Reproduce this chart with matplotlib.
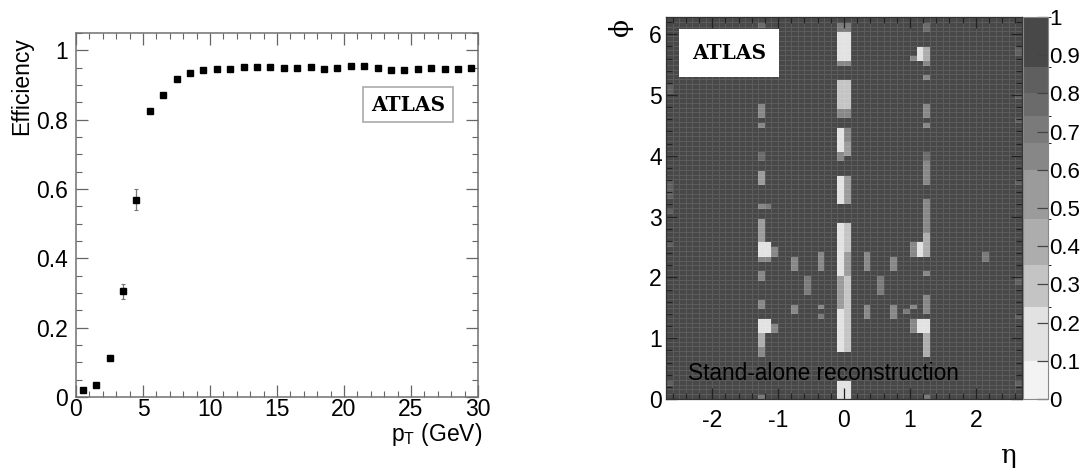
import numpy as np
import matplotlib
matplotlib.use("Agg")
import matplotlib.pyplot as plt
from matplotlib.colors import ListedColormap, BoundaryNorm
from matplotlib.patches import Rectangle
from matplotlib.ticker import MultipleLocator, FuncFormatter

plt.rcParams["font.family"] = ["Liberation Sans", "DejaVu Sans"]
plt.rcParams["mathtext.fontset"] = "custom"
plt.rcParams["mathtext.rm"] = "Liberation Sans"

# ---------------- efficiency vs pT ----------------
pt_bin_centers = [0.5, 1.5, 2.5, 3.5, 4.5, 5.5, 6.5, 7.5, 8.5, 9.5,
                  10.5, 11.5, 12.5, 13.5, 14.5, 15.5, 16.5, 17.5, 18.5, 19.5,
                  20.5, 21.5, 22.5, 23.5, 24.5, 25.5, 26.5, 27.5, 28.5, 29.5]
efficiency = [0.021, 0.034, 0.113, 0.305, 0.569, 0.826, 0.872, 0.916, 0.934, 0.943,
              0.945, 0.947, 0.953, 0.951, 0.951, 0.949, 0.949, 0.951, 0.946, 0.948,
              0.956, 0.954, 0.948, 0.944, 0.942, 0.946, 0.948, 0.947, 0.945, 0.948]
efficiency_err = [0.004, 0.005, 0.007, 0.022, 0.031, 0.006, 0.005, 0.004, 0.003, 0.003,
                  0.003, 0.003, 0.003, 0.003, 0.003, 0.003, 0.003, 0.003, 0.003, 0.003,
                  0.003, 0.003, 0.003, 0.003, 0.003, 0.003, 0.003, 0.003, 0.003, 0.003]

# ---------------- efficiency map in eta-phi ----------------
eta_range = (-2.7, 2.7)
n_eta_bins = 54
n_phi_bins = 80
nominal_eff = 1.0
# regions of reduced efficiency: (eta_lo, eta_hi, phi_lo, phi_hi, efficiency)
low_eff_regions = [
    # eta ~ 0 crack (two columns)
    (-0.1, 0.1, 6.07, 6.18, 0.72),
    (-0.1, 0.0, 5.57, 6.07, 0.12), (0.0, 0.1, 5.57, 6.07, 0.22),
    (-0.1, 0.1, 5.50, 5.57, 0.62),
    (-0.1, 0.0, 4.75, 5.27, 0.26), (0.0, 0.1, 4.75, 5.27, 0.34),
    (-0.1, 0.1, 4.68, 4.75, 0.62),
    (-0.1, 0.0, 4.04, 4.45, 0.12), (0.0, 0.1, 4.20, 4.45, 0.62), (0.0, 0.1, 4.04, 4.20, 0.5),
    (-0.1, 0.0, 3.97, 4.04, 0.62),
    (-0.1, 0.0, 3.22, 3.65, 0.12), (0.0, 0.1, 3.22, 3.65, 0.55),
    (-0.1, 0.0, 2.00, 2.92, 0.12), (0.0, 0.1, 2.45, 2.92, 0.25), (0.0, 0.1, 2.00, 2.45, 0.55),
    (-0.1, 0.0, 1.50, 2.00, 0.55), (0.0, 0.1, 1.50, 2.00, 0.28),
    (-0.1, 0.0, 0.80, 1.50, 0.14), (0.0, 0.1, 0.80, 1.50, 0.3),
    (-0.1, 0.0, 0.00, 0.31, 0.12), (0.0, 0.1, 0.00, 0.31, 0.2),
    # eta ~ -1.2 transition region
    (-1.3, -1.2, 6.10, 6.18, 0.75),
    (-1.3, -1.2, 4.64, 4.86, 0.62),
    (-1.3, -1.2, 4.45, 4.56, 0.62),
    (-1.3, -1.2, 3.93, 4.04, 0.75),
    (-1.3, -1.2, 3.55, 3.74, 0.55),
    (-1.3, -1.2, 3.14, 3.25, 0.62), (-1.2, -1.1, 3.14, 3.25, 0.72),
    (-1.3, -1.2, 2.62, 2.94, 0.5),
    (-1.3, -1.2, 2.31, 2.40, 0.6), (-1.2, -1.1, 2.31, 2.40, 0.6),
    (-1.3, -1.1, 2.40, 2.60, 0.1), (-1.1, -1.0, 2.40, 2.52, 0.65),
    (-1.3, -1.2, 2.00, 2.10, 0.62),
    (-1.3, -1.2, 1.52, 1.63, 0.65),
    (-1.3, -1.1, 1.08, 1.30, 0.1), (-1.1, -1.0, 1.10, 1.25, 0.65),
    (-1.3, -1.2, 0.86, 1.08, 0.35),
    (-1.3, -1.2, 0.70, 0.86, 0.6),
    (-1.3, -1.2, 0.00, 0.10, 0.7),
    # scattered cells in the barrel
    (-0.8, -0.7, 2.12, 2.31, 0.66), (-0.8, -0.7, 1.40, 1.60, 0.66),
    (-0.6, -0.5, 1.74, 2.01, 0.68),
    (-0.4, -0.3, 2.12, 2.42, 0.64), (-0.4, -0.3, 1.52, 1.60, 0.66),
    (-0.4, -0.3, 1.33, 1.40, 0.68),
    (0.3, 0.4, 2.12, 2.42, 0.64), (0.3, 0.4, 1.33, 1.60, 0.64),
    (0.5, 0.6, 1.74, 2.01, 0.68),
    (0.7, 0.8, 2.13, 2.34, 0.66), (0.7, 0.8, 1.33, 1.55, 0.66),
    (0.9, 1.0, 1.40, 1.52, 0.68),
    (1.0, 1.1, 2.40, 2.56, 0.62), (1.0, 1.1, 1.50, 1.60, 0.66),
    (1.0, 1.1, 1.10, 1.30, 0.62), (1.0, 1.1, 5.57, 5.65, 0.62),
    # eta ~ +1.2 transition region
    (1.2, 1.3, 6.07, 6.18, 0.75),
    (1.1, 1.2, 5.55, 5.77, 0.1), (1.2, 1.3, 5.55, 5.77, 0.4),
    (1.2, 1.3, 5.47, 5.55, 0.6),
    (1.2, 1.3, 5.25, 5.36, 0.62),
    (1.2, 1.3, 4.64, 4.86, 0.62),
    (1.2, 1.3, 4.45, 4.56, 0.62),
    (1.2, 1.3, 3.93, 4.04, 0.75), (1.2, 1.3, 3.55, 3.93, 0.62),
    (1.2, 1.3, 2.72, 3.33, 0.6),
    (1.2, 1.3, 2.40, 2.72, 0.35), (1.1, 1.2, 2.40, 2.62, 0.1),
    (1.2, 1.3, 2.04, 2.15, 0.6),
    (1.2, 1.3, 1.46, 1.70, 0.65),
    (1.1, 1.3, 1.08, 1.33, 0.1),
    (1.2, 1.3, 0.72, 1.08, 0.4),
    (1.2, 1.3, 0.00, 0.10, 0.7),
    # outer edges
    (-2.7, -2.6, 5.05, 5.16, 0.8), (-2.7, -2.6, 3.30, 3.60, 0.82),
    (-2.7, -2.6, 3.05, 3.14, 0.8), (-2.7, -2.6, 2.53, 2.61, 0.8),
    (-2.7, -2.6, 0.26, 0.31, 0.8),
    (2.1, 2.2, 2.30, 2.40, 0.72),
    (2.6, 2.7, 5.70, 5.77, 0.8), (2.6, 2.7, 4.95, 5.03, 0.8),
    (2.6, 2.7, 4.55, 4.63, 0.8), (2.6, 2.7, 3.55, 3.63, 0.8),
    (2.6, 2.7, 1.90, 2.00, 0.8), (2.6, 2.7, 1.33, 1.43, 0.8),
    (2.6, 2.7, 0.23, 0.31, 0.8),
]

# palette levels and grey shades
palette_levels = [0.0, 0.1, 0.24, 0.35, 0.47, 0.6, 0.67, 0.74, 0.8, 0.87, 1.0001]
palette_greys = ["#f3f3f3", "#e2e2e2", "#c4c4c4", "#adadad", "#9b9b9b",
                 "#878787", "#7a7a7a", "#6b6b6b", "#5f5f5f", "#484848"]

# build the eta-phi histogram
eta_edges = np.linspace(eta_range[0], eta_range[1], n_eta_bins + 1)
phi_edges = np.linspace(0, 2 * np.pi, n_phi_bins + 1)
eff_map = np.full((n_phi_bins, n_eta_bins), nominal_eff)
for e0, e1, p0, p1, val in low_eff_regions:
    eta_ov = np.minimum(e1, eta_edges[1:]) - np.maximum(e0, eta_edges[:-1])
    phi_ov = np.minimum(p1, phi_edges[1:]) - np.maximum(p0, phi_edges[:-1])
    ie = eta_ov > 0.5 * np.diff(eta_edges)
    ip = phi_ov > 0.4 * np.diff(phi_edges)
    eff_map[np.ix_(ip, ie)] = val

W, H = 1092, 469
fig = plt.figure(figsize=(W / 100, H / 100), dpi=100)

def fx(px):
    return px / W

def fy(py):
    return 1 - py / H

def root_fmt(v, _):
    return f"{v:g}"

# ---------- left panel ----------
ax1 = fig.add_axes([fx(76), fy(397), fx(478) - fx(76), fy(33) - fy(397)])
ax1.errorbar(pt_bin_centers, efficiency, yerr=efficiency_err, fmt="s",
             color="black", ms=4.6, mec="black", ecolor="#777777",
             elinewidth=0.9, capsize=1.5, capthick=0.8)
ax1.set_xlim(0, 30)
ax1.set_ylim(0, 1.05)
ax1.xaxis.set_major_locator(MultipleLocator(5))
ax1.xaxis.set_minor_locator(MultipleLocator(1))
ax1.yaxis.set_major_locator(MultipleLocator(0.2))
ax1.yaxis.set_minor_locator(MultipleLocator(0.05))
ax1.xaxis.set_major_formatter(FuncFormatter(root_fmt))
ax1.yaxis.set_major_formatter(FuncFormatter(root_fmt))
ax1.tick_params(which="both", direction="in", top=True, right=True,
                color="#666666", labelsize=16.5)
ax1.tick_params(which="major", length=8.5, width=0.9)
ax1.tick_params(which="minor", length=4.2, width=0.8)
ax1.tick_params(axis="x", pad=0.5)
ax1.tick_params(axis="y", pad=6)
for sp in ax1.spines.values():
    sp.set_color("#707070")
    sp.set_linewidth(1.1)
ax1.add_patch(Rectangle((0.714, 0.755), 0.224, 0.096, transform=ax1.transAxes,
                        facecolor="white", edgecolor="#aaaaaa", lw=1.2))
ax1.text(0.826, 0.803, "ATLAS", transform=ax1.transAxes, ha="center", va="center",
         family="DejaVu Serif", weight="bold", size=14.5)
fig.text(fx(22), fy(37), "Efficiency", rotation=90, ha="center", va="top", size=16.5)
fig.text(fx(482), fy(441), "p$_\\mathregular{T}$ (GeV)", ha="right", va="baseline", size=16.5)

# ---------- right panel ----------
ax2 = fig.add_axes([fx(666), fy(399), fx(1022) - fx(666), fy(17) - fy(399)])
cmap = ListedColormap(palette_greys)
norm = BoundaryNorm(palette_levels, cmap.N)
mesh = ax2.pcolormesh(eta_edges, phi_edges, eff_map, cmap=cmap, norm=norm,
                      edgecolors=(1, 1, 1, 0.11), linewidth=0.6)
ax2.set_xlim(eta_range)
ax2.set_ylim(0, 2 * np.pi)
ax2.xaxis.set_major_locator(MultipleLocator(1))
ax2.xaxis.set_minor_locator(MultipleLocator(0.2))
ax2.yaxis.set_major_locator(MultipleLocator(1))
ax2.yaxis.set_minor_locator(MultipleLocator(0.2))
ax2.xaxis.set_major_formatter(FuncFormatter(root_fmt))
ax2.yaxis.set_major_formatter(FuncFormatter(root_fmt))
ax2.tick_params(which="both", direction="in", top=True, right=True,
                color="#222222", labelsize=16.5)
ax2.tick_params(which="major", length=8, width=0.9)
ax2.tick_params(which="minor", length=4, width=0.8)
ax2.tick_params(axis="x", pad=7)
ax2.tick_params(axis="y", pad=3)
for sp in ax2.spines.values():
    sp.set_color("#333333")
    sp.set_linewidth(0.9)
ax2.add_patch(Rectangle((0.036, 0.843), 0.281, 0.126, transform=ax2.transAxes,
                        facecolor="white", edgecolor="none", zorder=3))
ax2.text(0.177, 0.906, "ATLAS", transform=ax2.transAxes, ha="center", va="center",
         family="DejaVu Serif", weight="bold", size=14.5, zorder=4)
ax2.text(0.062, 0.05, "Stand-alone reconstruction", transform=ax2.transAxes,
         ha="left", va="baseline", size=16.3, color="black", zorder=4)
fig.text(fx(620), fy(27), "\u03d5", rotation=90, ha="center", va="center",
         family="DejaVu Serif", size=19)
fig.text(fx(1008), fy(455), "\u03b7", ha="center", va="center",
         family="DejaVu Serif", size=19)

# palette axis
cax = fig.add_axes([fx(1023), fy(399), fx(1048) - fx(1023), fy(17) - fy(399)])
cb = fig.colorbar(mesh, cax=cax, ticks=np.arange(0, 1.01, 0.1), spacing="proportional")
cb.ax.yaxis.set_major_formatter(FuncFormatter(root_fmt))
cb.ax.tick_params(direction="in", length=8, width=0.9, color="#444444",
                  labelsize=16, pad=1)
cb.outline.set_edgecolor("#888888")
cb.outline.set_linewidth(0.8)

fig.savefig("out.png", dpi=100)
